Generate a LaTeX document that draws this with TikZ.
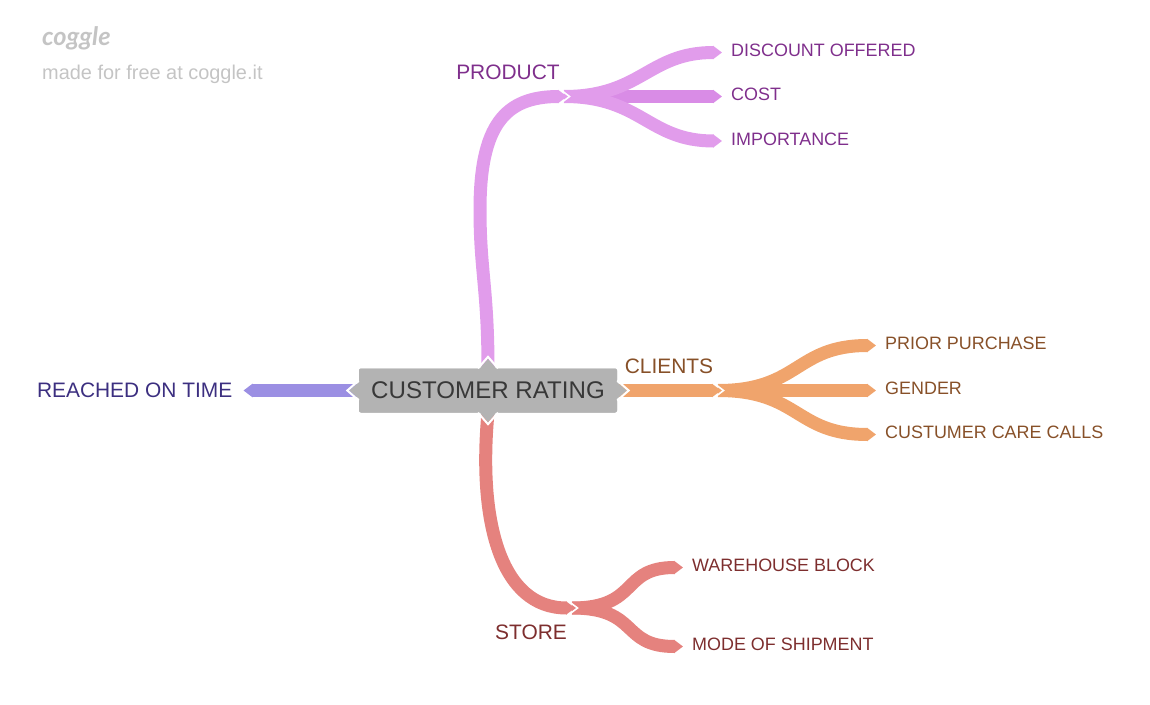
\documentclass[tikz,border=0pt]{standalone}
\usepackage{fontspec}
\setmainfont{Liberation Sans}
\newfontfamily\cogglefont{Lato}
\usetikzlibrary{arrows.meta}
\definecolor{prodcol}{HTML}{E19CEB}
\definecolor{prodmid}{HTML}{D98CE6}
\definecolor{prodtxt}{HTML}{7F2F8C}
\definecolor{clicol}{HTML}{F0A46C}
\definecolor{clitxt}{HTML}{875028}
\definecolor{storecol}{HTML}{E5827E}
\definecolor{storetxt}{HTML}{7D2E2E}
\definecolor{timecol}{HTML}{9B8FE3}
\definecolor{timetxt}{HTML}{3C2F80}
\definecolor{rootcol}{HTML}{B3B3B3}
\definecolor{marktxt}{HTML}{C4C4C4}
\tikzset{
  limb/.style={line width=13bp,-{Triangle[length=9bp,width=13bp]}},
  twig/.style={limb,shorten <=-3bp},
  leaf/.style={anchor=west,inner xsep=9bp,inner ysep=0pt,text height=12.9bp,text depth=4bp,
    font=\fontsize{18}{18}\selectfont},
  bough/.style={inner sep=0pt,font=\fontsize{21}{21}\selectfont},
  rootbox/.style={fill=rootcol,rounded corners=2bp,minimum width=258bp,minimum height=44bp,inner sep=0pt,
    text=black!78,font=\fontsize{24.2}{24}\selectfont},
  notch/.pic={\draw[white,line width=1.6bp] (-8,-8)--(2.5,0)--(-8,8);},
  pin/.pic={
    \fill[rootcol] (-1,-9)--(9.5,0)--(-1,9)--cycle;
    \draw[white,line width=2bp] (0,-10)--(11.5,0)--(0,10);}
}
\begin{document}
\begin{tikzpicture}[x=1bp,y=-1bp]
    \useasboundingbox (0,0) rectangle (1150,705);
    \node[inner sep=0pt,anchor=west,text=marktxt,font=\fontsize{25.5}{26}\cogglefont\bfseries\itshape](mark) at (42,38) {coggle};
    \node[inner sep=0pt,anchor=west,text=marktxt,font=\fontsize{20}{20}\selectfont](made) at (42,74.5) {made for free at coggle.it};

    \node[rootbox](root) at (488,390.5) {CUSTOMER RATING};

    \coordinate (prodend) at (567,96.5);
    \coordinate (cliend) at (721,390.5);
    \coordinate (storeend) at (575,608);

    \node[bough,text=prodtxt](prod) at (508,72) {PRODUCT};
    \node[bough,text=clitxt](cli) at (669,366) {CLIENTS};
    \node[bough,text=storetxt](store) at (531,632) {STORE};
    \node[bough,text=timetxt,anchor=east,inner xsep=11bp](ontime) at (243.5,390.5) {REACHED ON TIME};

    \node[leaf,text=prodtxt](disc) at (722,52.5) {DISCOUNT OFFERED};
    \node[leaf,text=prodtxt](cost) at (722,96.5) {COST};
    \node[leaf,text=prodtxt](impo) at (722,141) {IMPORTANCE};
    \node[leaf,text=clitxt](prior) at (876,345.5) {PRIOR PURCHASE};
    \node[leaf,text=clitxt](gender) at (876,390.5) {GENDER};
    \node[leaf,text=clitxt](calls) at (876,434.5) {CUSTUMER CARE CALLS};
    \node[leaf,text=storetxt](ware) at (683,567.5) {WAREHOUSE BLOCK};
    \node[leaf,text=storetxt](ship) at (683,646.5) {MODE OF SHIPMENT};

    \draw[twig,prodmid] (prodend) -- (cost.west);
    \draw[twig,prodcol] (prodend) .. controls (642,96.5) and (648,52.5) .. (disc.west);
    \draw[twig,prodcol] (prodend) .. controls (642,96.5) and (648,141) .. (impo.west);
    \draw[limb,prodcol] (root.north) .. controls (488,290) and (480,270) .. (480,210)
      .. controls (480,125) and (505,96.5) .. (prodend);

    \draw[twig,clicol] (cliend) -- (gender.west);
    \draw[twig,clicol] (cliend) .. controls (800,390.5) and (795,345.5) .. (prior.west);
    \draw[twig,clicol] (cliend) .. controls (800,390.5) and (795,434.5) .. (calls.west);
    \draw[limb,clicol] (root.east) -- (cliend);

    \draw[twig,storecol] (storeend) .. controls (640,608) and (620,567.5) .. (ware.west);
    \draw[twig,storecol] (storeend) .. controls (640,608) and (620,646.5) .. (ship.west);
    \draw[limb,storecol] (root.south) .. controls (478,520) and (500,608) .. (storeend);

    \draw[limb,timecol] (root.west) -- (ontime.east);

    \node[rootbox] at (root) {CUSTOMER RATING};
    \pic at (root.east) {pin};
    \pic[rotate=180] at (root.west) {pin};
    \pic[rotate=-90] at (root.south) {pin};
    \pic[rotate=90] at (root.north) {pin};
    \foreach \hub in {prodend,cliend,storeend}
        \pic at (\hub) {notch};
\end{tikzpicture}
\end{document}
